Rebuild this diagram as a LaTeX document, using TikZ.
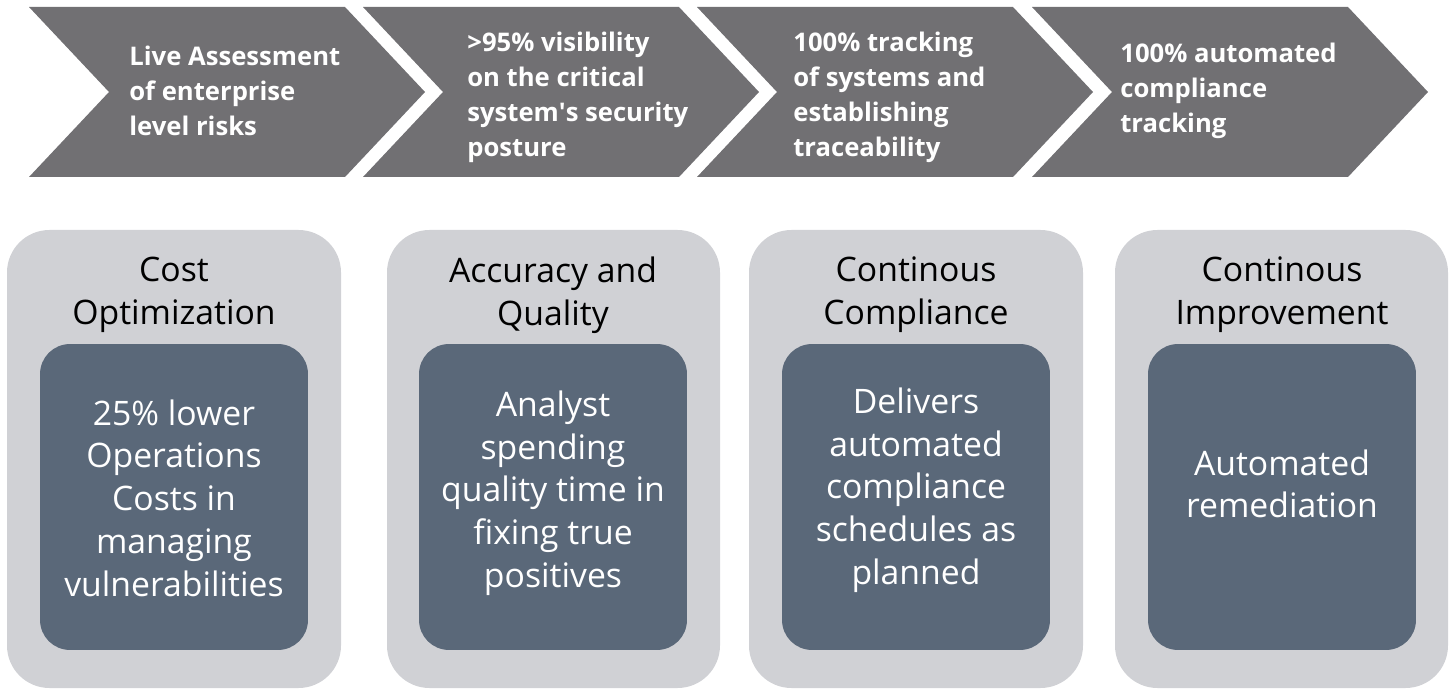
\documentclass[tikz,border=0pt]{standalone}
\usepackage{fontspec}
\setmainfont{Open Sans}
\usepackage{tikz}
\usetikzlibrary{positioning}

\definecolor{chevgray}{RGB}{113,112,115}
\definecolor{pillargray}{RGB}{208,209,213}
\definecolor{slateblue}{RGB}{90,104,121}

\tikzset{
  chev/.style={fill=chevgray,draw=none},
  chevtext/.style={anchor=west,align=left,text=white,inner sep=0pt,
    font=\bfseries\fontsize{14.6}{19.9}\selectfont},
  pillar/.style={fill=pillargray,draw=none,rounded corners=0.85cm},
  valbox/.style={rectangle,fill=slateblue,draw=none,rounded corners=0.6cm,
    minimum width=5.36cm,minimum height=6.12cm},
  headtext/.style={align=center,text=black,inner sep=0pt,
    font=\fontsize{19.2}{24.3}\selectfont},
  valtext/.style={align=center,text=white,inner sep=0pt,
    font=\fontsize{19.2}{24.3}\selectfont}
}

\begin{document}
\begin{tikzpicture}[x=0.02cm,y=-0.02cm]
\useasboundingbox (0,0) rectangle (1455,689);

% chevrons
\fill[chev] (29,7) -- (345,7) -- (425,92) -- (345,177) -- (29,177) -- (109,92) -- cycle;
\fill[chev] (363,7) -- (679,7) -- (759,92) -- (679,177) -- (363,177) -- (443,92) -- cycle;
\fill[chev] (697,7) -- (1013,7) -- (1093,92) -- (1013,177) -- (697,177) -- (777,92) -- cycle;
\fill[chev] (1032,7) -- (1348,7) -- (1428,92) -- (1348,177) -- (1032,177) -- (1112,92) -- cycle;

\node[chevtext] (ch1) at (129,91) {Live Assessment\\of enterprise\\level risks};
\node[chevtext] (ch2) at (467,97) {>95\% visibility\\on the critical\\system\textquotesingle s security\\posture};
\node[chevtext] (ch3) at (793,97) {100\% tracking\\of systems and\\establishing\\traceability};
\node[chevtext] (ch4) at (1120,91) {100\% automated\\compliance\\tracking};

% pillars
\fill[pillar] (7,230) rectangle (341,688);
\fill[pillar] (387,230) rectangle (720,688);
\fill[pillar] (749,230) rectangle (1083,688);
\fill[pillar] (1115,230) rectangle (1448,688);

\node[headtext] (head1) at (174,295) {Cost\\Optimization};
\node[headtext] (head2) at (553,295) {Accuracy and\\Quality};
\node[headtext] (head3) at (916,295) {Continous\\Compliance};
\node[headtext] (head4) at (1282,295) {Continous\\Improvement};

\node[valbox] (val1) at (174,497) {};
\node[valbox] (val2) at (553,497) {};
\node[valbox] (val3) at (916,497) {};
\node[valbox] (val4) at (1282,497) {};

\node[valtext] (txt1) at (174,498) {25\% lower\\Operations\\Costs in\\managing\\vulnerabilities};
\node[valtext] (txt2) at (553,493) {Analyst\\spending\\quality time in\\fixing true\\positives};
\node[valtext] (txt3) at (916,490) {Delivers\\automated\\compliance\\schedules as\\planned};
\node[valtext] (txt4) at (1282,484) {Automated\\remediation};

\end{tikzpicture}
\end{document}
